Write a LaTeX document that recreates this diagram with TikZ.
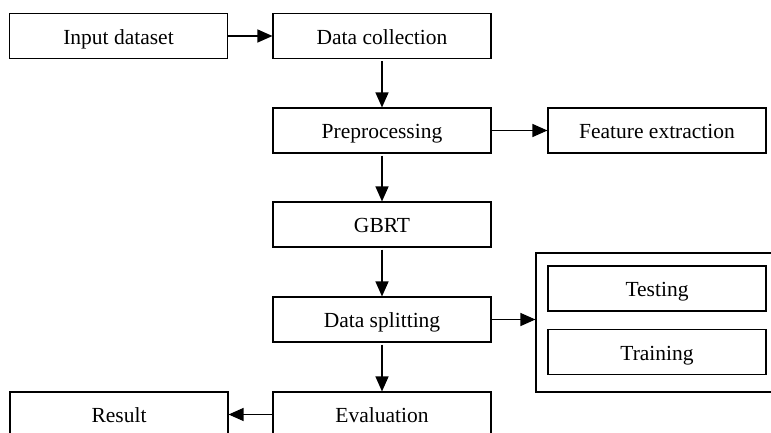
\documentclass[tikz,border=0pt]{standalone}
\usepackage{fontspec}
\setmainfont{Liberation Serif}
\usetikzlibrary{arrows.meta}
\begin{document}
\begin{tikzpicture}[x=1pt,y=1pt,
  stepbox/.style={draw,line width=1.1pt,minimum width=218pt,minimum height=45pt,
    inner sep=0pt,text height=17pt,text depth=0.4pt,
    font=\fontsize{21.5}{24}\selectfont},
  groupbox/.style={draw,line width=1.1pt,minimum width=240pt,minimum height=139pt,inner sep=0pt},
  flow/.style={line width=1.2pt,-{Triangle[length=15pt,width=13pt]}}]
\clip (0,0) rectangle (771,432);
\fill[white] (0,0) rectangle (771,432);
% main chain
\node[stepbox] (inp)   at (118.5,396)  {Input dataset};
\node[stepbox] (dc)    at (382,396)    {Data collection};
\node[stepbox] (pre)   at (382,301.5)  {Preprocessing};
\node[stepbox] (fe)    at (657,301.5)  {Feature extraction};
\node[stepbox] (gbrt)  at (382,207.5)  {GBRT};
\node[stepbox] (ds)    at (382,112.5)  {Data splitting};
\node[stepbox] (eval)  at (382,17.5)   {Evaluation};
\node[stepbox] (res)   at (119,17.5)   {Result};
% split group
\node[groupbox] (grp)  at (656,109.5)  {};
\node[stepbox] (test)  at (657,143.5)  {Testing};
\node[stepbox] (train) at (657,80)     {Training};
% connectors
\draw[flow] (inp) -- (dc);
\draw[flow] ([yshift=-2pt]dc.south) -- (pre.north);
\draw[flow] (pre) -- (fe);
\draw[flow] ([yshift=-2pt]pre.south) -- (gbrt.north);
\draw[flow] ([yshift=-2pt]gbrt.south) -- (ds.north);
\draw[flow] (ds.east) -- (ds.east -| grp.west);
\draw[flow] ([yshift=-2pt]ds.south) -- (eval.north);
\draw[flow] (eval) -- (res);
\end{tikzpicture}
\end{document}
